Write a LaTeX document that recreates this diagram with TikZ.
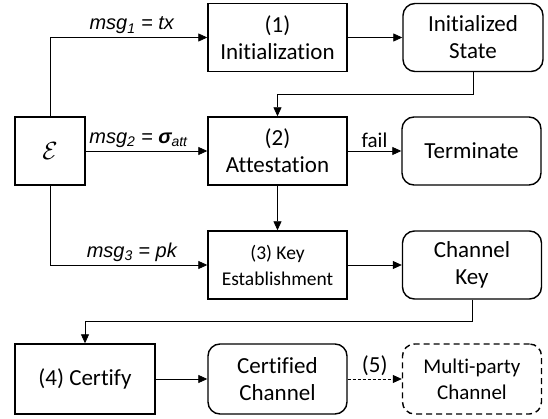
\documentclass[tikz,border=0pt]{standalone}
\usepackage{fontspec}
\setmainfont{Carlito}[Ligatures=NoCommon]
\newfontfamily\msgfont{Liberation Sans}
\usetikzlibrary{arrows.meta}

\begin{document}
\begin{tikzpicture}[x=1pt,y=-1pt,>={Triangle[length=9pt,width=8pt]},
    blk/.style={draw,line width=1.4pt,minimum width=139pt,minimum height=68pt,
        align=center,inner sep=2pt,font=\fontsize{23}{27}\selectfont},
    state/.style={blk,rounded corners=12pt},
    conn/.style={->,line width=0.8pt},
    lbl/.style={font=\msgfont\itshape\fontsize{20}{24}\selectfont,inner sep=3pt}]
    \useasboundingbox (0,0) rectangle (548,419);
    % sender
    \node[blk,minimum width=70pt] (env) at (50,151) {\fontsize{31}{34}\selectfont$\mathcal{E}$};
    % protocol steps
    \node[blk] (init) at (277.5,37.5) {(1)\\Initialization};
    \node[blk] (att) at (277.5,151) {(2)\\Attestation};
    \node[blk,font=\fontsize{19.5}{26}\selectfont] (key) at (277.5,265) {(3) Key\\Establishment};
    \node[blk,minimum width=140pt,minimum height=70pt] (cert) at (85,379) {(4) Certify};
    % resulting states
    \node[state,minimum width=140pt] (initst) at (473,37.5) {Initialized\\State};
    \node[state] (term) at (471.5,151) {Terminate};
    \node[state] (chkey) at (472,265) {Channel\\Key};
    \node[state,minimum height=70pt] (certch) at (277.5,379) {Certified\\Channel};
    \node[state,dash pattern=on 6pt off 4pt,minimum height=70pt,font=\fontsize{21}{26}\selectfont] (multi) at (472,379) {Multi-party\\Channel};
    % messages
    \draw[conn] (env.north) |- node[lbl,above,pos=0.76] {msg\textsubscript{1} = tx} (init.west);
    \draw[conn] (env) -- node[lbl,above,xshift=-8pt] {msg\textsubscript{2} = \textbf{σ}\textsubscript{att}} (att);
    \draw[conn] (env.south) |- node[lbl,above,pos=0.76] {msg\textsubscript{3} = pk} (key.west);
    % flow
    \draw[conn] (init) -- (initst);
    \draw[conn] (initst.south) -- ++(0,22) -| (att.north);
    \draw[conn] (att) -- node[above,font=\fontsize{21}{24}\selectfont] {fail} (term);
    \draw[conn] (att) -- (key);
    \draw[conn] (key) -- (chkey);
    \draw[conn] (chkey.south) -- ++(0,22) -| (cert.north);
    \draw[conn] (cert) -- (certch);
    \draw[conn,dash pattern=on 3pt off 2pt] (certch) -- node[above,font=\fontsize{23}{26}\selectfont] {(5)} (multi);
\end{tikzpicture}
\end{document}
